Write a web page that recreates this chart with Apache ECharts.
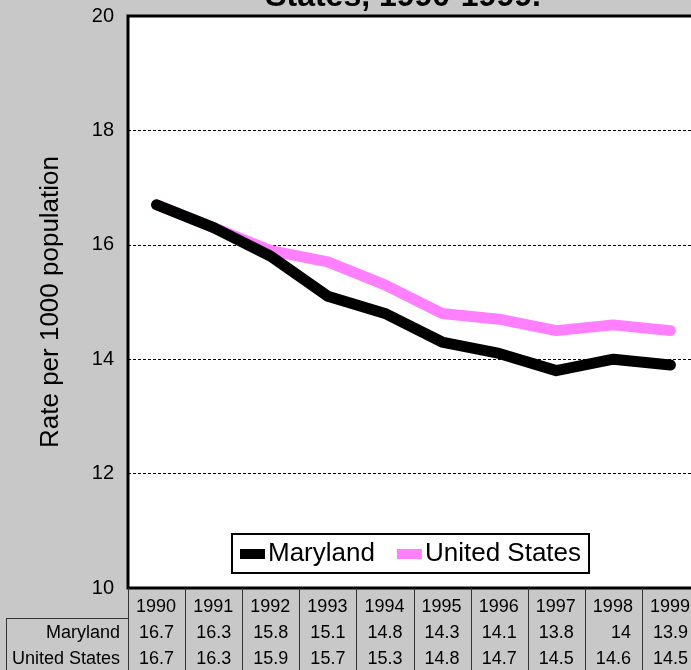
<!DOCTYPE html>
<html>
<head>
<meta charset="utf-8">
<script src="https://cdn.jsdelivr.net/npm/echarts@6/dist/echarts.min.js"></script>
<style>
    html, body { margin: 0; padding: 0; background: #c8c8c8; }
    #chart { width: 691px; height: 670px; }
</style>
</head>
<body>
<div id="chart"></div>
<script>
    var years = ['1990', '1991', '1992', '1993', '1994', '1995', '1996', '1997', '1998', '1999'];
    var maryland = [16.7, 16.3, 15.8, 15.1, 14.8, 14.3, 14.1, 13.8, 14, 13.9];
    var unitedStates = [16.7, 16.3, 15.9, 15.7, 15.3, 14.8, 14.7, 14.5, 14.6, 14.5];
    var seriesNames = ['Maryland', 'United States'];
    var titleText = 'States, 1990-1999.';
    var yAxisName = 'Rate per 1000 population';

    var font = 'Liberation Sans, Arial, sans-serif';

    (function () {
        var chartDom = document.getElementById('chart');
        var myChart = echarts.init(chartDom);
        var option;

        option = {
            backgroundColor: '#c8c8c8',
            animation: false,
            grid: {
                left: 128,
                top: 16,
                width: 571, // plot runs past the right edge of the picture
                bottom: 82,
                outerBoundsMode: 'none',
                containLabel: false,
                show: true,
                backgroundColor: '#fff',
                borderColor: '#000',
                borderWidth: 3
            },
            legend: {
                data: seriesNames,
                left: 232,
                top: 534,
                orient: 'horizontal',
                icon: 'rect',
                itemWidth: 25,
                itemHeight: 10,
                itemGap: 22,
                padding: [7, 8, 6, 8],
                backgroundColor: '#fff',
                borderColor: '#000',
                borderWidth: 2,
                borderRadius: 0,
                textStyle: { fontFamily: font, fontSize: 26, color: '#000', padding: [2, 0, 0, -2] }
            },
            xAxis: {
                type: 'category',
                data: years,
                boundaryGap: true,
                axisLine: { show: false },
                axisTick: { show: false },
                axisLabel: { show: false },
                splitLine: { show: false }
            },
            yAxis: {
                type: 'value',
                min: 10,
                max: 20,
                interval: 2,
                name: yAxisName,
                nameLocation: 'middle',
                nameGap: 64,
                nameTextStyle: { fontFamily: font, fontSize: 26, color: '#000' },
                axisLine: { show: false },
                axisTick: { show: false },
                axisLabel: { fontFamily: font, fontSize: 20, color: '#000', margin: 14 },
                splitLine: {
                    lineStyle: { color: '#000', width: 1, type: [3, 2] }
                }
            },
            series: [
                {
                    name: 'Maryland',
                    type: 'line',
                    data: maryland,
                    symbol: 'none',
                    z: 3,
                    itemStyle: { color: '#000' },
                    lineStyle: { color: '#000', width: 11, cap: 'round', join: 'round' }
                },
                {
                    name: 'United States',
                    type: 'line',
                    data: unitedStates,
                    symbol: 'none',
                    z: 2,
                    itemStyle: { color: '#ff80ff' },
                    lineStyle: { color: '#ff80ff', width: 11, cap: 'round', join: 'round' }
                }
            ]
        };

        myChart.setOption(option);

        // data table under the plot, columns follow the category axis
        var c0 = myChart.convertToPixel({ xAxisIndex: 0 }, 0);
        var c1 = myChart.convertToPixel({ xAxisIndex: 0 }, 1);
        var half = (c1 - c0) / 2;
        var plotBottom = 588, rowLine = 618, bottom = 670;
        var rowY = [607, 633, 659];
        var lineColor = '#333';
        var els = [];

        // title is cut off by the top of the picture
        els.push({
            type: 'text',
            style: { text: titleText, x: 403, y: -3, textAlign: 'center', textVerticalAlign: 'middle', font: 'bold 32px ' + font, fill: '#000' }
        });
        els.push({
            type: 'line', shape: { x1: 6, y1: rowLine + 0.5, x2: c0 - half, y2: rowLine + 0.5 },
            style: { stroke: lineColor, lineWidth: 1 }
        });
        els.push({
            type: 'line', shape: { x1: 6.5, y1: rowLine, x2: 6.5, y2: bottom },
            style: { stroke: lineColor, lineWidth: 1 }
        });
        var rows = [maryland, unitedStates];
        seriesNames.forEach(function (n, r) {
            els.push({
                type: 'text',
                style: { text: n, x: 120, y: rowY[r + 1], textAlign: 'right', textVerticalAlign: 'middle', font: '18px ' + font, fill: '#000' }
            });
        });
        for (var i = 0; i < years.length; i++) {
            var cx = myChart.convertToPixel({ xAxisIndex: 0 }, i);
            var xl = Math.round(cx - half) + 0.5;
            els.push({
                type: 'line', shape: { x1: xl, y1: plotBottom, x2: xl, y2: bottom },
                style: { stroke: lineColor, lineWidth: 1 }
            });
            var xr = cx + half - 9;
            els.push({
                type: 'text',
                style: { text: years[i], x: xr, y: rowY[0], textAlign: 'right', textVerticalAlign: 'middle', font: '18px ' + font, fill: '#000' }
            });
            rows.forEach(function (vals, r) {
                els.push({
                    type: 'text',
                    style: { text: String(vals[i]), x: xr - 2, y: rowY[r + 1], textAlign: 'right', textVerticalAlign: 'middle', font: '18px ' + font, fill: '#000' }
                });
            });
        }

        myChart.setOption({ graphic: { elements: els } });
    })();
</script>
</body>
</html>
